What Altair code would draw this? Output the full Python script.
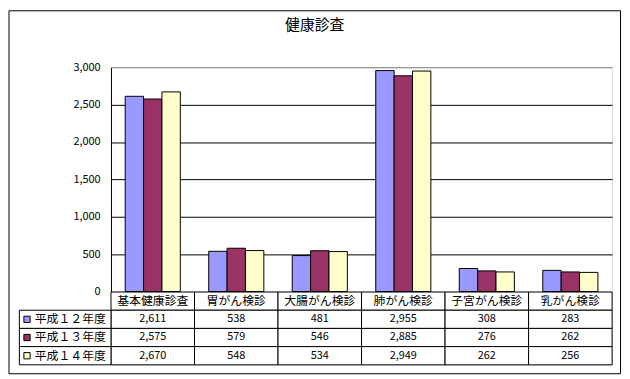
import altair as alt
import pandas as pd

categories = ["基本健康診査", "胃がん検診", "大腸がん検診", "肺がん検診", "子宮がん検診", "乳がん検診"]
series = ["平成１２年度", "平成１３年度", "平成１４年度"]
v12 = [2611, 538, 481, 2955, 308, 283]
v13 = [2575, 579, 546, 2885, 276, 262]
v14 = [2670, 548, 534, 2949, 262, 256]
colors = ["#9999FF", "#993366", "#FFFFCC"]
y_ticks = [0, 500, 1000, 1500, 2000, 2500, 3000]
title_text = "健康診査"

FONT = "Noto Sans CJK JP"
W, H = 506, 226.5
TH = 73.5
HEADER = "header"
rows = [HEADER] + series

recs = []
for s, vals in zip(series, [v12, v13, v14]):
    for c, v in zip(categories, vals):
        recs.append({"cat": c, "series": s, "row": s, "value": v})
df = pd.DataFrame(recs)

grid = pd.DataFrame([{"cat": c, "row": r} for r in rows for c in categories])
head = pd.DataFrame({"cat": categories, "row": HEADER})
sdf = pd.DataFrame({"series": series, "row": series})

color = alt.Color("series:N", scale=alt.Scale(domain=series, range=colors), legend=None)

# ---- bar chart
bars = alt.Chart(df).mark_bar(stroke="black", strokeWidth=1).encode(
    x=alt.X("cat:N", sort=categories,
            scale=alt.Scale(domain=categories, paddingInner=0.34, paddingOuter=0.17),
            axis=None),
    xOffset=alt.XOffset("series:N", sort=series,
                        scale=alt.Scale(domain=series, paddingInner=0, paddingOuter=0)),
    y=alt.Y("value:Q", scale=alt.Scale(domain=[0, 3000], nice=False),
            axis=alt.Axis(values=y_ticks, format=",.0f", title=None, grid=True,
                          gridColor=alt.condition("datum.value == 3000", alt.value("#808080"), alt.value("black")),
                          ticks=False, domainColor="black", labelPadding=11,
                          labelFont=FONT, labelFontSize=11, labelColor="black")),
    color=color,
)

border = alt.Chart(pd.DataFrame({"k": [0]})).mark_rect(
    fillOpacity=0, stroke="black", strokeWidth=1
).encode(
    x=alt.value(-103), x2=alt.value(514.5), y=alt.value(-57), y2=alt.value(309.5)
)

top = alt.layer(bars, border).properties(width=W, height=H)

# ---- data table
tx = alt.X("cat:N", sort=categories,
           scale=alt.Scale(domain=categories, paddingInner=0, paddingOuter=0), axis=None)
ty = alt.Y("row:N", sort=rows,
           scale=alt.Scale(domain=rows, paddingInner=0, paddingOuter=0), axis=None)

cells = alt.Chart(grid).mark_rect(fill="white", stroke="black", strokeWidth=1).encode(x=tx, y=ty)
head_txt = alt.Chart(head).mark_text(font=FONT, fontSize=12, color="black").encode(
    x=tx, y=ty, text="cat:N")
val_txt = alt.Chart(df).mark_text(font=FONT, fontSize=11, color="black").encode(
    x=tx, y=ty, text=alt.Text("value:Q", format=",.0f"))
left_cells = alt.Chart(sdf).mark_rect(fill="white", stroke="black", strokeWidth=1).encode(
    x=alt.value(-92.5), x2=alt.value(0), y=ty)
keys = alt.Chart(sdf).mark_point(shape="square", filled=True, size=40, stroke="black",
                                 strokeWidth=1, opacity=1).encode(
    x=alt.value(-84.8), y=ty, color=color)
key_txt = alt.Chart(sdf).mark_text(font=FONT, fontSize=12, align="left", color="black").encode(
    x=alt.value(-77), y=ty, text="series:N")

table = alt.layer(cells, head_txt, val_txt, left_cells, keys, key_txt).properties(width=W, height=TH)

chart = alt.vconcat(top, table, spacing=0, bounds="flush").resolve_scale(
    x="independent", y="independent"
).properties(
    title=alt.TitleParams(title_text, font=FONT, fontSize=15, fontWeight="normal",
                          color="black", anchor="middle", offset=-23),
    padding=0,
).configure_view(stroke="#808080", strokeWidth=1).configure(font=FONT, background="white")

chart.save("out.html", embed_options={"renderer": "svg", "actions": False})
